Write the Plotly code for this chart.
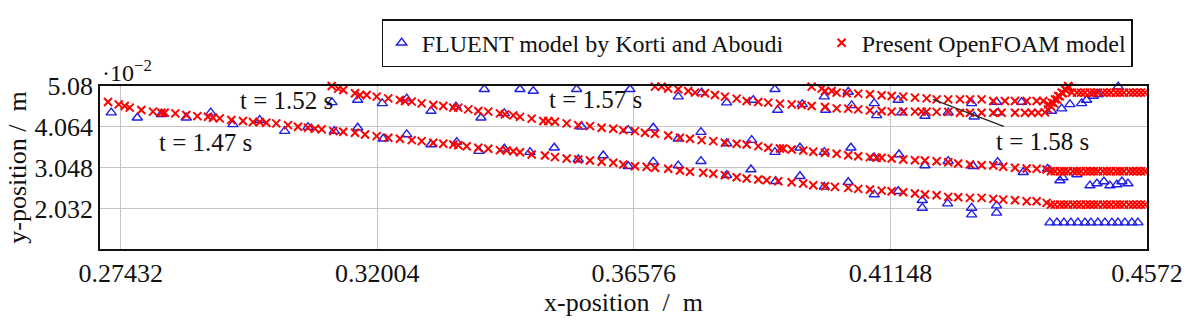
import plotly.graph_objects as go

# ---------------- axis ticks ----------------
x_ticks = [0.27432, 0.32004, 0.36576, 0.41148, 0.4572]
x_tick_labels = ["0.27432", "0.32004", "0.36576", "0.41148", "0.4572"]
y_ticks = [2.032, 3.048, 4.064, 5.08]
y_tick_labels = ["2.032", "3.048", "4.064", "5.08"]

# ---------------- Present OpenFOAM model (x in m, y in 1e-2 m) ----------------
of_147_x = [0.27206, 0.27396, 0.27503, 0.27592, 0.27799, 0.28007, 0.28155, 0.28216, 0.28405, 0.28601,
            0.28797, 0.28987, 0.29076, 0.29196, 0.29403, 0.29611, 0.29789, 0.29909, 0.30026, 0.30204,
            0.30413, 0.30591, 0.30769, 0.30894, 0.31013, 0.31220, 0.31398, 0.31607, 0.31785, 0.31993,
            0.32200, 0.32408, 0.32617, 0.32795, 0.33002, 0.33180, 0.33358, 0.33447, 0.33597, 0.33804,
            0.33982, 0.34190, 0.34310, 0.34427, 0.34547, 0.34755, 0.34992, 0.35170, 0.35379, 0.35585,
            0.35794, 0.36002, 0.36209, 0.36387, 0.36596, 0.36804, 0.36952, 0.37189, 0.37397, 0.37576,
            0.37813, 0.37991, 0.38199, 0.38408, 0.38586, 0.38793, 0.38942, 0.39149, 0.39388, 0.39594,
            0.39773, 0.39981, 0.40159, 0.40396, 0.40574, 0.40783, 0.40991, 0.41170, 0.41376, 0.41585,
            0.41763, 0.41971, 0.42178, 0.42356, 0.42565, 0.42773, 0.42980, 0.43158, 0.43367, 0.43575,
            0.43753, 0.43931, 0.44008, 0.44079, 0.44168, 0.44240, 0.44311, 0.44400, 0.44471, 0.44543,
            0.44632, 0.44703, 0.44774, 0.44845, 0.44935, 0.45006, 0.45077, 0.45166, 0.45237, 0.45309,
            0.45398, 0.45469, 0.45540, 0.45612, 0.45683]
of_147_y = [4.681, 4.624, 4.582, 4.542, 4.482, 4.442, 4.417, 4.417, 4.400, 4.357,
            4.332, 4.317, 4.292, 4.275, 4.233, 4.208, 4.183, 4.183, 4.168, 4.150,
            4.108, 4.068, 4.043, 4.018, 4.001, 3.959, 3.944, 3.919, 3.876, 3.834,
            3.794, 3.769, 3.734, 3.709, 3.669, 3.644, 3.627, 3.609, 3.584, 3.545,
            3.520, 3.485, 3.477, 3.460, 3.435, 3.378, 3.353, 3.311, 3.278, 3.253,
            3.228, 3.196, 3.171, 3.128, 3.086, 3.071, 3.046, 3.021, 2.979, 2.947,
            2.922, 2.897, 2.862, 2.812, 2.779, 2.754, 2.737, 2.712, 2.687, 2.655,
            2.613, 2.588, 2.573, 2.548, 2.523, 2.505, 2.480, 2.463, 2.438, 2.406,
            2.381, 2.363, 2.324, 2.314, 2.299, 2.299, 2.274, 2.256, 2.239, 2.214,
            2.214, 2.174, 2.132, 2.132, 2.132, 2.132, 2.132, 2.132, 2.132, 2.132,
            2.132, 2.132, 2.132, 2.132, 2.132, 2.132, 2.132, 2.132, 2.132, 2.132,
            2.132, 2.132, 2.132, 2.132, 2.132]

of_152_x = [0.31192, 0.31309, 0.31398, 0.31607, 0.31696, 0.31815, 0.31993, 0.32200, 0.32408, 0.32498,
            0.32617, 0.32795, 0.33002, 0.33180, 0.33358, 0.33447, 0.33625, 0.33804, 0.33982, 0.34190,
            0.34279, 0.34427, 0.34547, 0.34755, 0.34962, 0.35051, 0.35170, 0.35379, 0.35585, 0.35794,
            0.36002, 0.36209, 0.36387, 0.36596, 0.36774, 0.36952, 0.37189, 0.37397, 0.37576, 0.37784,
            0.37991, 0.38199, 0.38408, 0.38586, 0.38793, 0.38971, 0.39179, 0.39238, 0.39388, 0.39594,
            0.39773, 0.39981, 0.40190, 0.40396, 0.40574, 0.40783, 0.40902, 0.40991, 0.41170, 0.41376,
            0.41585, 0.41763, 0.41971, 0.42178, 0.42356, 0.42565, 0.42773, 0.42980, 0.43158, 0.43367,
            0.43575, 0.43753, 0.43931, 0.44008, 0.44079, 0.44168, 0.44240, 0.44311, 0.44400, 0.44471,
            0.44543, 0.44632, 0.44703, 0.44774, 0.44845, 0.44935, 0.45006, 0.45077, 0.45166, 0.45237,
            0.45309, 0.45398, 0.45469, 0.45540, 0.45612, 0.45683]
of_152_y = [5.080, 5.015, 4.980, 4.898, 4.856, 4.856, 4.816, 4.773, 4.731, 4.706,
            4.691, 4.649, 4.607, 4.582, 4.542, 4.542, 4.499, 4.457, 4.442, 4.400,
            4.375, 4.350, 4.313, 4.268, 4.208, 4.208, 4.193, 4.150, 4.108, 4.083,
            4.043, 4.018, 3.983, 3.959, 3.919, 3.894, 3.851, 3.794, 3.769, 3.734,
            3.709, 3.669, 3.644, 3.627, 3.585, 3.545, 3.527, 3.527, 3.502, 3.477,
            3.445, 3.420, 3.395, 3.360, 3.335, 3.311, 3.296, 3.296, 3.278, 3.253,
            3.236, 3.228, 3.211, 3.186, 3.153, 3.128, 3.111, 3.103, 3.071, 3.046,
            3.029, 3.021, 3.004, 2.962, 2.962, 2.962, 2.962, 2.962, 2.962, 2.962,
            2.962, 2.962, 2.962, 2.962, 2.962, 2.962, 2.962, 2.962, 2.962, 2.962,
            2.962, 2.962, 2.962, 2.962, 2.962, 2.962]

of_157_x = [0.36715, 0.36804, 0.36952, 0.37071, 0.37189, 0.37367, 0.37545, 0.37665, 0.37843, 0.38021,
            0.38199, 0.38408, 0.38586, 0.38793, 0.38971, 0.39179, 0.39388, 0.39566, 0.39744, 0.39981,
            0.40190, 0.40396, 0.40574, 0.40783, 0.40991, 0.41170, 0.41376, 0.41585, 0.41704, 0.41793,
            0.41971, 0.42178, 0.42387, 0.42565, 0.42773, 0.42980, 0.43130, 0.43367, 0.43545, 0.43664,
            0.43782, 0.43901, 0.43955, 0.44008, 0.44061, 0.44115, 0.44168, 0.44222, 0.44275, 0.44329]
of_157_y = [5.122, 5.097, 5.065, 5.065, 5.015, 4.998, 4.955, 4.916, 4.898, 4.856,
            4.816, 4.766, 4.706, 4.681, 4.666, 4.641, 4.624, 4.606, 4.582, 4.557,
            4.524, 4.517, 4.499, 4.474, 4.457, 4.442, 4.442, 4.442, 4.442, 4.442,
            4.437, 4.437, 4.417, 4.417, 4.417, 4.417, 4.417, 4.417, 4.417, 4.417,
            4.417, 4.425, 4.499, 4.574, 4.649, 4.748, 4.823, 4.898, 4.973, 5.048]

of_158_x = [0.39566, 0.39655, 0.39744, 0.39922, 0.39981, 0.40100, 0.40190, 0.40368, 0.40574, 0.40783,
            0.40991, 0.41170, 0.41376, 0.41585, 0.41793, 0.41971, 0.42178, 0.42387, 0.42565, 0.42773,
            0.42980, 0.43188, 0.43367, 0.43575, 0.43753, 0.43871, 0.43960, 0.44020, 0.44079, 0.44138,
            0.44199, 0.44257, 0.44316, 0.44382, 0.44471, 0.44543, 0.44614, 0.44703, 0.44774, 0.44845,
            0.44935, 0.45006, 0.45077, 0.45166, 0.45237, 0.45309, 0.45398, 0.45469, 0.45540, 0.45612,
            0.45683]
of_158_y = [5.122, 5.097, 5.065, 5.015, 4.955, 4.955, 4.916, 4.898, 4.891, 4.873,
            4.848, 4.831, 4.816, 4.791, 4.773, 4.748, 4.748, 4.748, 4.748, 4.748,
            4.706, 4.706, 4.706, 4.706, 4.706, 4.706, 4.624, 4.666, 4.748, 4.831,
            4.916, 4.998, 5.080, 4.916, 4.916, 4.916, 4.916, 4.916, 4.916, 4.916,
            4.916, 4.916, 4.916, 4.916, 4.916, 4.916, 4.916, 4.916, 4.916, 4.916,
            4.916]

# ---------------- FLUENT model by Korti and Aboudi ----------------
fl_147_x = [0.27264, 0.27728, 0.28155, 0.28601, 0.29036, 0.29433, 0.29909, 0.30354, 0.30769, 0.31238,
            0.31655, 0.32111, 0.32528, 0.32961, 0.33419, 0.33816, 0.34267, 0.34725, 0.35158, 0.35585,
            0.36031, 0.36476, 0.36922, 0.37367, 0.37772, 0.38230, 0.38663, 0.39103, 0.39536, 0.39969,
            0.40396, 0.40860, 0.41287, 0.41715, 0.41715, 0.42167, 0.42595, 0.42595, 0.43040, 0.43040,
            0.43990, 0.44115, 0.44240, 0.44364, 0.44489, 0.44614, 0.44721, 0.44845, 0.44970, 0.45095,
            0.45202, 0.45326, 0.45451, 0.45558]
fl_147_y = [4.417, 4.292, 4.375, 4.292, 4.417, 4.125, 4.233, 3.959, 4.058, 3.959,
            4.043, 3.769, 3.876, 3.627, 3.684, 3.460, 3.520, 3.435, 3.545, 3.253,
            3.353, 3.086, 3.196, 3.103, 3.211, 2.862, 3.004, 2.712, 2.837, 2.573,
            2.688, 2.381, 2.463, 2.239, 2.049, 2.156, 2.049, 1.882, 2.107, 1.925,
            1.683, 1.683, 1.683, 1.683, 1.683, 1.683, 1.683, 1.683, 1.683, 1.683,
            1.683, 1.683, 1.683, 1.683]

fl_152_x = [0.31197, 0.31655, 0.32093, 0.32528, 0.32961, 0.33406, 0.33852, 0.34267, 0.35646, 0.36476,
            0.36922, 0.37367, 0.37772, 0.38230, 0.38675, 0.39090, 0.39536, 0.39969, 0.40444, 0.40860,
            0.41300, 0.41763, 0.42178, 0.42624, 0.43058, 0.43514, 0.43949, 0.44168, 0.44222, 0.44471,
            0.44703, 0.44828, 0.44952, 0.45059, 0.45184, 0.45273, 0.45380]
fl_152_y = [4.674, 4.731, 4.649, 4.766, 4.457, 4.567, 4.292, 4.400, 4.068, 3.983,
            4.043, 3.769, 3.934, 3.652, 3.734, 3.435, 3.545, 3.435, 3.545, 3.296,
            3.378, 3.103, 3.211, 3.086, 3.186, 2.937, 3.021, 2.730, 2.804, 2.879,
            2.605, 2.655, 2.705, 2.605, 2.630, 2.705, 2.655]

fl_157_x = [0.33911, 0.34310, 0.34547, 0.34784, 0.35111, 0.35229, 0.35557, 0.35990, 0.36507, 0.36982,
            0.37367, 0.37784, 0.38230, 0.38704, 0.39138, 0.39577, 0.39994, 0.40457, 0.40902, 0.41348,
            0.41763, 0.42178, 0.42641, 0.43069, 0.44020, 0.44199, 0.44347, 0.44555, 0.44644, 0.44762,
            0.44851]
fl_157_y = [4.998, 5.097, 4.998, 4.955, 5.097, 5.097, 4.998, 5.122, 4.998, 5.097,
            4.816, 4.916, 4.666, 4.731, 4.482, 4.624, 4.482, 4.599, 4.350, 4.417,
            4.333, 4.417, 4.317, 4.417, 4.457, 4.517, 4.624, 4.649, 4.731, 4.831,
            4.873]

fl_158_x = [0.39090, 0.39536, 0.39969, 0.40396, 0.40860, 0.41287, 0.42595, 0.43040, 0.43486, 0.44644,
            0.45000, 0.45207]
fl_158_y = [4.998, 5.097, 4.816, 4.931, 4.649, 4.731, 4.649, 4.681, 4.681, 5.097,
            5.122, 5.065]

# ---------------- annotations ----------------
time_labels = ["t = 1.47 s", "t = 1.52 s", "t = 1.57 s", "t = 1.58 s"]
label_x = [0.28934, 0.30395, 0.35901, 0.43865]
label_y = [3.677, 4.724, 4.748, 3.702]
arrow_tip = (0.41905, 4.748)

SERIF = "Liberation Serif, Times New Roman, serif"
BLUE = "#1f1fe6"
RED = "#ff0000"
INK = "#111111"

fig = go.Figure()

fluent_sets = [(fl_147_x, fl_147_y), (fl_152_x, fl_152_y), (fl_157_x, fl_157_y), (fl_158_x, fl_158_y)]
for i, (xs, ys) in enumerate(fluent_sets):
    fig.add_trace(go.Scatter(
        x=xs, y=ys, mode="markers", name="FLUENT model by Korti and Aboudi",
        legendgroup="fluent", showlegend=(i == 0), cliponaxis=False,
        legendwidth=395,
        marker=dict(symbol="triangle-up-open", size=9, color=BLUE,
                    line=dict(width=1.4, color=BLUE)),
    ))

of_sets = [(of_147_x, of_147_y), (of_152_x, of_152_y), (of_157_x, of_157_y), (of_158_x, of_158_y)]
for i, (xs, ys) in enumerate(of_sets):
    fig.add_trace(go.Scatter(
        x=xs, y=ys, mode="markers", name="Present OpenFOAM model",
        legendgroup="of", showlegend=(i == 0), cliponaxis=False,
        marker=dict(symbol="x-thin", size=8, color=RED,
                    line=dict(width=2, color=RED)),
    ))

for k, (txt, lx, ly) in enumerate(zip(time_labels, label_x, label_y)):
    if k == 3:
        fig.add_annotation(x=arrow_tip[0], y=arrow_tip[1], ax=lx, ay=ly,
                           axref="x", ayref="y", xref="x", yref="y",
                           text=txt, showarrow=True, arrowhead=0, arrowwidth=1.3,
                           arrowcolor="#222222", standoff=0,
                           font=dict(family=SERIF, size=25, color=INK))
    else:
        fig.add_annotation(x=lx, y=ly, xref="x", yref="y", text=txt, showarrow=False,
                           font=dict(family=SERIF, size=25, color=INK))

fig.add_annotation(x=0.0, y=1.09, xref="paper", yref="paper", xanchor="left", yanchor="middle",
                   text="·10<sup>−2</sup>", showarrow=False,
                   font=dict(family=SERIF, size=24, color=INK))

fig.update_layout(
    width=1195, height=329,
    margin=dict(l=100, r=48, t=86, b=80, pad=0),
    paper_bgcolor="white", plot_bgcolor="white",
    font=dict(family=SERIF, color=INK),
    legend=dict(orientation="h", x=0.269, y=1.41, xanchor="left", yanchor="top",
                bordercolor=INK, borderwidth=1.5, bgcolor="white",
                font=dict(family=SERIF, size=24, color=INK),
                itemclick=False, tracegroupgap=0),
)
fig.update_xaxes(
    range=[0.27063, 0.4572], tickvals=x_ticks, ticktext=x_tick_labels,
    showgrid=True, gridcolor="#c4c4c4", gridwidth=1.2, zeroline=False,
    showline=True, linecolor=INK, linewidth=1.6, mirror=True,
    ticks="", tickfont=dict(family=SERIF, size=26, color=INK),
    title=dict(text="x-position\u00a0\u00a0/\u00a0\u00a0m", font=dict(family=SERIF, size=26, color=INK),
               standoff=4),
)
fig.update_yaxes(
    range=[1.028, 5.08], tickvals=y_ticks, ticktext=y_tick_labels,
    showgrid=True, gridcolor="#c4c4c4", gridwidth=1.2, zeroline=False,
    showline=True, linecolor=INK, linewidth=1.6, mirror=True,
    ticks="", tickfont=dict(family=SERIF, size=26, color=INK),
    title=dict(text="y-position\u00a0/\u00a0\u00a0m", font=dict(family=SERIF, size=26, color=INK),
               standoff=0),
)

fig.write_html("out.html")
